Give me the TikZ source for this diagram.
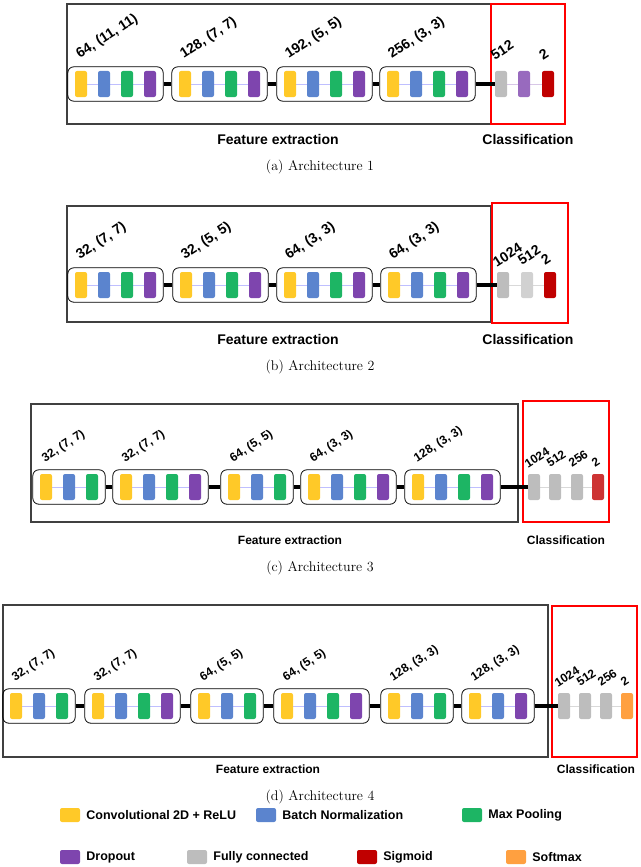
\documentclass[tikz,border=0pt]{standalone}
\usepackage{fontspec}
\newfontfamily\lab{Liberation Sans}
\usetikzlibrary{fit,backgrounds,positioning}
\definecolor{cyel}{HTML}{FFC928}
\definecolor{cblu}{HTML}{5B84CE}
\definecolor{cgrn}{HTML}{1DB564}
\definecolor{cpur}{HTML}{7E45AE}
\definecolor{cgry}{HTML}{BDBDBD}
\definecolor{cred}{HTML}{C00000}
\definecolor{cora}{HTML}{FFA040}
\tikzset{
  unit/.style={rectangle,rounded corners=2pt,minimum width=12pt,minimum height=26pt,inner sep=0pt,draw=none},
  grp/.style={draw,rounded corners=6pt,inner xsep=7pt,inner ysep=4pt,line width=0.8pt},
  thinline/.style={draw=blue!25,line width=0.6pt},
  link/.style={line width=3.5pt,black},
  lbl/.style={font=\lab\bfseries\fontsize{14}{16}\selectfont,rotate=33,anchor=south west,inner sep=0pt},
  small/.style={font=\lab\bfseries\fontsize{12}{14}\selectfont},
  part/.style={font=\lab\bfseries\fontsize{14}{16}\selectfont},
  capt/.style={font=\fontsize{14}{16}\selectfont},
  fbox/.style={draw=black!75,line width=2pt},
  cbox/.style={draw=red,line width=2pt},
  sw/.style={rectangle,rounded corners=2pt,minimum width=20pt,minimum height=14pt,inner sep=0pt},
  legtext/.style={font=\lab\bfseries\fontsize{12.5}{14}\selectfont,right=6pt of #1,inner sep=0pt}
}
% name, y, start x, colours, count, label, label style
\newcommand\grp[7]{%
  \foreach \c [count=\i] in {#4} {\node[unit,fill=\c] (#1u\i) at ({#3+23*(\i-1)},#2) {};}
  \begin{scope}[on background layer]\draw[thinline] (#1u1) -- (#1u#5);\end{scope}
  \node[grp,fit=(#1u1)(#1u#5)] (#1) {};
  \node[lbl,#7] at ([xshift=14pt,yshift=5pt]#1.north west) {#6};
}
\begin{document}
\begin{tikzpicture}[x=1pt,y=-1pt]
\useasboundingbox (0,0) rectangle (640,867);

% Architecture 1
\node[fbox,minimum width=424pt,minimum height=120pt,anchor=north west] (fa) at (66,3) {};
\node[cbox,minimum width=74pt,minimum height=120pt,anchor=north west] (ca) at (490,3) {};
\grp{ga}{84}{81}{cyel,cblu,cgrn,cpur}{4}{64, (11, 11)}{}
\grp{gb}{84}{185}{cyel,cblu,cgrn,cpur}{4}{128, (7, 7)}{}
\grp{gc}{84}{290}{cyel,cblu,cgrn,cpur}{4}{192, (5, 5)}{}
\grp{gd}{84}{393}{cyel,cblu,cgrn,cpur}{4}{256, (3, 3)}{}
\node[unit,fill=cgry] (ka) at (501,84) {};
\node[unit,fill=cpur!80] (kb) at (524,84) {};
\node[unit,fill=cred] (kc) at (548,84) {};
\begin{scope}[on background layer]\draw[thinline,draw=cpur!30] (ka) -- (kc);\end{scope}
\draw[link] (ga) -- (gb); \draw[link] (gb) -- (gc); \draw[link] (gc) -- (gd); \draw[link] (gd) -- (ka);
\node[lbl] at ([xshift=-6pt,yshift=10pt]ka.north) {512};
\node[lbl] at ([xshift=-5pt,yshift=10pt]kc.north) {2};
\node[part] (pa) at (278,139) {Feature extraction};
\node[part] (qa) at (528,139) {Classification};
\node[capt] (ra) at (320,167) {(a) Architecture 1};

% Architecture 2
\node[fbox,minimum width=424pt,minimum height=116pt,anchor=north west] (fb) at (66,205) {};
\node[cbox,minimum width=76pt,minimum height=120pt,anchor=north west] (cb) at (491,202) {};
\grp{ha}{285}{81}{cyel,cblu,cgrn,cpur}{4}{32, (7, 7)}{}
\grp{hb}{285}{186}{cyel,cblu,cgrn,cpur}{4}{32, (5, 5)}{}
\grp{hc}{285}{290}{cyel,cblu,cgrn,cpur}{4}{64, (3, 3)}{}
\grp{hd}{285}{394}{cyel,cblu,cgrn,cpur}{4}{64, (3, 3)}{}
\node[unit,fill=cgry] (la) at (503,285) {};
\node[unit,fill=cgry!70] (lb) at (527,285) {};
\node[unit,fill=cred] (lc) at (550,285) {};
\begin{scope}[on background layer]\draw[thinline,draw=black!15] (la) -- (lc);\end{scope}
\draw[link] (ha) -- (hb); \draw[link] (hb) -- (hc); \draw[link] (hc) -- (hd); \draw[link] (hd) -- (la);
\node[lbl] at ([xshift=-6pt,yshift=4pt]la.north) {1024};
\node[lbl] at ([xshift=-5pt,yshift=6pt]lb.north) {512};
\node[lbl] at ([xshift=-5pt,yshift=6pt]lc.north) {2};
\node[part] (pb) at (278,339) {Feature extraction};
\node[part] (qb) at (528,339) {Classification};
\node[capt] (rb) at (320,367) {(b) Architecture 2};

% Architecture 3
\node[fbox,minimum width=487pt,minimum height=118pt,anchor=north west] (fc) at (30,403) {};
\node[cbox,minimum width=86pt,minimum height=121pt,anchor=north west] (cc) at (522,400) {};
\grp{ia}{487}{46}{cyel,cblu,cgrn}{3}{32, (7, 7)}{small}
\grp{ib}{487}{126}{cyel,cblu,cgrn,cpur}{4}{32, (7, 7)}{small}
\grp{ic}{487}{234}{cyel,cblu,cgrn}{3}{64, (5, 5)}{small}
\grp{id}{487}{314}{cyel,cblu,cgrn,cpur}{4}{64, (3, 3)}{small}
\grp{ie}{487}{418}{cyel,cblu,cgrn,cpur}{4}{128, (3, 3)}{small}
\node[unit,fill=cgry] (ma) at (534,487) {};
\node[unit,fill=cgry] (mb) at (555,487) {};
\node[unit,fill=cgry] (mc) at (577,487) {};
\node[unit,fill=cred!80] (md) at (598,487) {};
\begin{scope}[on background layer]\draw[thinline,draw=black!15] (ma) -- (md);\end{scope}
\draw[link] (ia) -- (ib); \draw[link] (ib) -- (ic); \draw[link] (ic) -- (id); \draw[link] (id) -- (ie); \draw[link] (ie) -- (ma);
\node[lbl,small] at ([xshift=-6pt,yshift=5pt]ma.north) {1024};
\node[lbl,small] at ([xshift=-5pt,yshift=6pt]mb.north) {512};
\node[lbl,small] at ([xshift=-5pt,yshift=6pt]mc.north) {256};
\node[lbl,small] at ([xshift=-3pt,yshift=6pt]md.north) {2};
\node[part,small] (pc) at (290,540) {Feature extraction};
\node[part,small] (qc) at (566,540) {Classification};
\node[capt] (rc) at (320,568) {(c) Architecture 3};

% Architecture 4
\node[fbox,minimum width=545pt,minimum height=152pt,anchor=north west] (fd) at (2,604) {};
\node[cbox,minimum width=85pt,minimum height=151pt,anchor=north west] (cd) at (551,605) {};
\grp{ja}{706}{16}{cyel,cblu,cgrn}{3}{32, (7, 7)}{small}
\grp{jb}{706}{98}{cyel,cblu,cgrn,cpur}{4}{32, (7, 7)}{small}
\grp{jc}{706}{204}{cyel,cblu,cgrn}{3}{64, (5, 5)}{small}
\grp{jd}{706}{287}{cyel,cblu,cgrn,cpur}{4}{64, (5, 5)}{small}
\grp{je}{706}{394}{cyel,cblu,cgrn}{3}{128, (3, 3)}{small}
\grp{jf}{706}{475}{cyel,cblu,cpur}{3}{128, (3, 3)}{small}
\node[unit,fill=cgry] (na) at (564,706) {};
\node[unit,fill=cgry] (nb) at (585,706) {};
\node[unit,fill=cgry] (nc) at (606,706) {};
\node[unit,fill=cora] (nd) at (627,706) {};
\begin{scope}[on background layer]\draw[thinline,draw=black!15] (na) -- (nd);\end{scope}
\draw[link] (ja) -- (jb); \draw[link] (jb) -- (jc); \draw[link] (jc) -- (jd); \draw[link] (jd) -- (je); \draw[link] (je) -- (jf); \draw[link] (jf) -- (na);
\node[lbl,small] at ([xshift=-6pt,yshift=5pt]na.north) {1024};
\node[lbl,small] at ([xshift=-5pt,yshift=6pt]nb.north) {512};
\node[lbl,small] at ([xshift=-5pt,yshift=6pt]nc.north) {256};
\node[lbl,small] at ([xshift=-3pt,yshift=6pt]nd.north) {2};
\node[part,small] (pd) at (268,769) {Feature extraction};
\node[part,small] (qd) at (596,769) {Classification};
\node[capt] (rd) at (320,797) {(d) Architecture 4};

% legend
\node[sw,fill=cyel] (s1) at (70,815) {};
\node[legtext=s1] {Convolutional 2D + ReLU};
\node[sw,fill=cblu] (s2) at (266,815) {};
\node[legtext=s2] {Batch Normalization};
\node[sw,fill=cgrn] (s3) at (472,815) {};
\node[legtext=s3] {Max Pooling};
\node[sw,fill=cpur] (s4) at (70,857) {};
\node[legtext=s4] {Dropout};
\node[sw,fill=cgry] (s5) at (197,857) {};
\node[legtext=s5] {Fully connected};
\node[sw,fill=cred] (s6) at (367,857) {};
\node[legtext=s6] {Sigmoid};
\node[sw,fill=cora] (s7) at (516,857) {};
\node[legtext=s7] {Softmax};
\end{tikzpicture}
\end{document}
